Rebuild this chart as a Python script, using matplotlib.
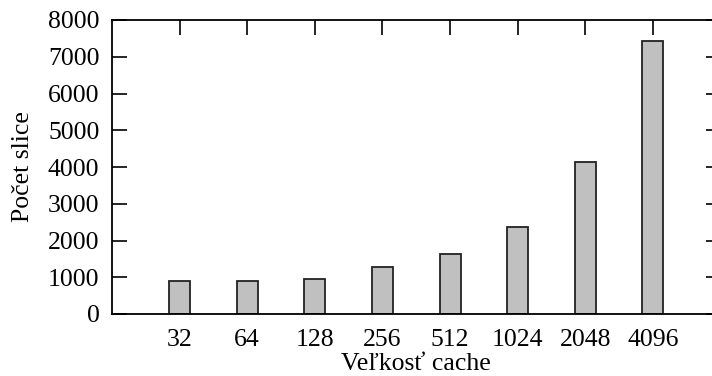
import matplotlib
matplotlib.use("Agg")
import matplotlib.pyplot as plt
import numpy as np

categories = ["32", "64", "128", "256", "512", "1024", "2048", "4096"]
values = [906, 906, 944, 1279, 1641, 2376, 4145, 7429]

plt.rcParams['font.family'] = ['Liberation Serif', 'DejaVu Serif']

fig = plt.figure(figsize=(7.12, 3.76), dpi=100)
W, H = 712, 376
left, right, top, bottom = 112, 720.6, 20, 314
ax = fig.add_axes([left / W, (H - bottom) / H, (right - left) / W, (bottom - top) / H])

x = np.arange(len(categories))
ax.bar(x, values, width=0.31, color='#c0c0c0', edgecolor='#222222', linewidth=1.3)

ax.set_xlim(-1, 8)
ax.set_ylim(0, 8000)
ax.set_xticks(x)
ax.set_xticklabels(categories)
ax.set_yticks(np.arange(0, 8001, 1000))

fs = 18.5
ax.tick_params(direction='in', length=11, width=1.2, top=True, right=True,
               labelsize=fs, colors='black')
ax.tick_params(axis='x', bottom=False, pad=11)
ax.tick_params(axis='y', pad=9)
for s in ax.spines.values():
    s.set_linewidth(1.3)

ax.set_xlabel("Veľkosť cache", fontsize=fs, labelpad=1)
ax.set_ylabel("Počet slice", fontsize=fs, labelpad=10)

fig.savefig("out.png", dpi=100)
